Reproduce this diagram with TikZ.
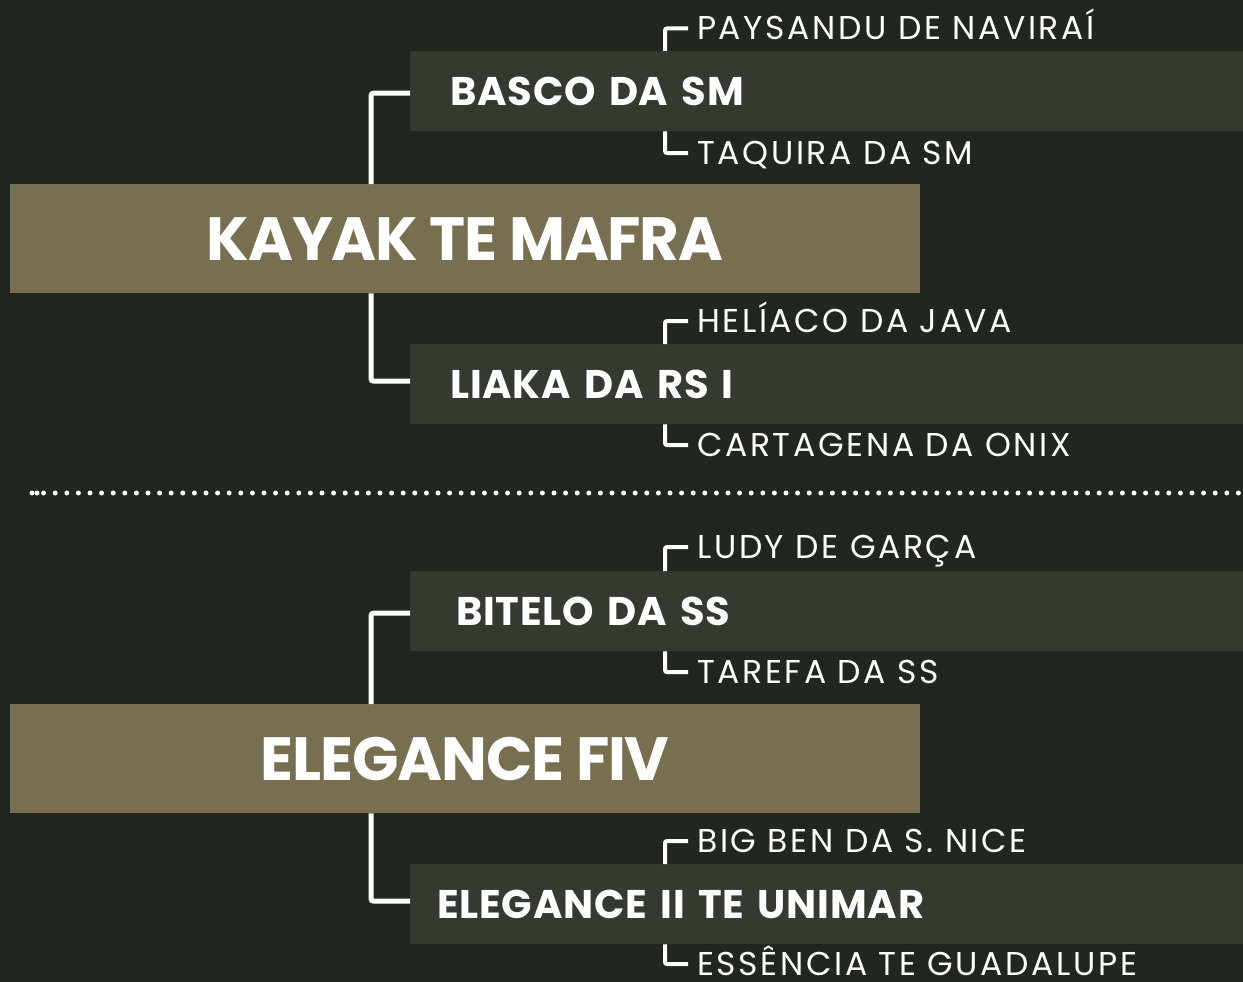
\documentclass[tikz,border=0pt]{standalone}
\usepackage{fontspec}
\setmainfont{Poppins}
\newfontfamily\popTight{Poppins}[LetterSpace=-2]
\newfontfamily\popBar{Poppins}[LetterSpace=2]
\newfontfamily\popWide{Poppins}[LetterSpace=8]
\definecolor{bgc}{HTML}{21271E}
\definecolor{pbarc}{HTML}{343A30}
\definecolor{mbarc}{HTML}{786F50}
\tikzset{
  mainbar/.style={fill=mbarc, minimum width=910pt, minimum height=109pt, anchor=north west,
    inner sep=0pt, text=white, font=\popTight\bfseries\fontsize{61}{61}\selectfont,
    text height=43pt, text depth=0pt},
  sirebar/.style={fill=pbarc, minimum width=833pt, minimum height=80pt, anchor=north west,
    inner xsep=40pt, inner ysep=0pt, text width=753pt, align=left, text=white,
    font=\popBar\bfseries\fontsize{40}{40}\selectfont, text height=28pt, text depth=0pt},
  gp/.style={anchor=west, inner sep=0pt, text=white, font=\popWide\fontsize{33}{33}\selectfont,
    text height=22pt, text depth=0pt},
  link/.style={draw=white, line width=5pt, rounded corners=2.5pt},
  tick/.style={draw=white, line width=4pt, rounded corners=2pt},
}
\begin{document}
\begin{tikzpicture}[x=1pt, y=-1pt]
\fill[bgc] (0,0) rectangle (1243,982);
\useasboundingbox (0,0) rectangle (1243,982);
% group 1
\node[mainbar] (m1) at (10,184) {KAYAK TE MAFRA};
\node[sirebar] (s1) at (410,51) {BASCO DA SM};
\node[sirebar] (d1) at (410,344) {LIAKA DA RS I};
\node[gp] (g1) at (697,28.5) {PAYSANDU DE NAVIRAÍ};
\node[gp] (g2) at (697,153) {TAQUIRA DA SM};
\node[gp] (g3) at (697,321) {HELÍACO DA JAVA};
\node[gp] (g4) at (697,445) {CARTAGENA DA ONIX};
\draw[link] ([xshift=361pt]m1.north west) |- ([yshift=-2pt]s1.west);
\draw[link] ([xshift=361pt]m1.south west) |- ([yshift=3pt]d1.west);
\draw[tick] ([xshift=255pt]s1.north west) |- ([xshift=-9pt]g1.west);
\draw[tick] ([xshift=255pt]s1.south west) |- ([xshift=-9pt]g2.west);
\draw[tick] ([xshift=255pt]d1.north west) |- ([xshift=-9pt]g3.west);
\draw[tick] ([xshift=255pt]d1.south west) |- ([xshift=-9pt]g4.west);
% separator
\draw[white, line width=5pt, line cap=round, dash pattern=on 0pt off 11.6pt] (32,493) -- (1243,493);
\fill[white] (37,493) circle (2.5pt);
% group 2
\node[mainbar] (m2) at (10,704) {ELEGANCE FIV};
\node[sirebar] (s2) at (410,571) {\hspace*{6pt}BITELO DA SS};
\node[sirebar] (d2) at (410,864) {\hspace*{-13pt}ELEGANCE II TE UNIMAR};
\node[gp] (h1) at (697,547) {LUDY DE GARÇA};
\node[gp] (h2) at (697,672) {TAREFA DA SS};
\node[gp] (h3) at (697,841) {BIG BEN DA S. NICE};
\node[gp] (h4) at (697,964) {ESSÊNCIA TE GUADALUPE};
\draw[link] ([xshift=361pt]m2.north west) |- ([yshift=-2pt]s2.west);
\draw[link] ([xshift=361pt]m2.south west) |- ([yshift=3pt]d2.west);
\draw[tick] ([xshift=255pt]s2.north west) |- ([xshift=-9pt]h1.west);
\draw[tick] ([xshift=255pt]s2.south west) |- ([xshift=-9pt]h2.west);
\draw[tick] ([xshift=255pt]d2.north west) |- ([xshift=-9pt]h3.west);
\draw[tick] ([xshift=255pt]d2.south west) |- ([xshift=-9pt]h4.west);
\end{tikzpicture}
\end{document}
